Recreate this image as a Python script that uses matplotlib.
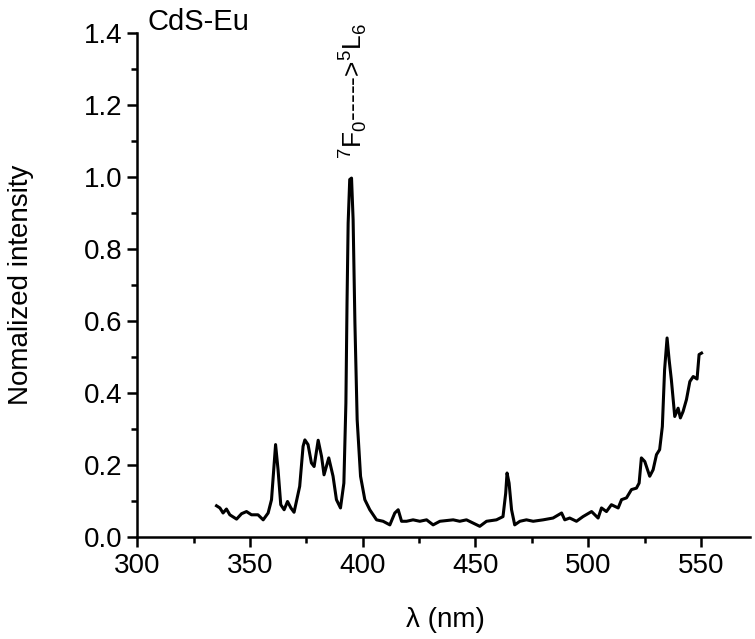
import numpy as np
import matplotlib.pyplot as plt
from matplotlib.ticker import MultipleLocator

plt.rcParams['font.family'] = ['Liberation Sans', 'DejaVu Sans']
plt.rcParams['mathtext.fontset'] = 'custom'
plt.rcParams['mathtext.rm'] = 'Liberation Sans'

# excitation spectrum
wavelength = [335.1, 336.6, 338.0, 339.5, 341.0, 344.0, 346.2, 348.4, 350.6, 353.5,
              355.8, 358.0, 359.5, 361.3, 362.4, 363.6, 365.1, 366.6, 368.1, 369.5,
              372.0, 373.5, 374.3, 375.7, 377.2, 378.4, 380.2, 381.7, 382.8, 384.9,
              386.8, 388.3, 390.1, 391.6, 392.5, 393.0, 393.5, 394.2, 395.0, 395.7,
              396.5, 397.5, 399.0, 400.9, 403.1, 406.1, 409.0, 412.0, 414.2, 415.7,
              417.2, 419.4, 422.3, 425.3, 428.3, 431.2, 434.2, 440.1, 443.0, 446.0,
              451.9, 454.9, 459.3, 462.2, 463.4, 464.0, 464.9, 466.0, 467.4, 469.7,
              472.6, 475.6, 480.0, 484.4, 488.2, 489.6, 491.8, 494.8, 497.7, 501.5,
              504.4, 505.9, 508.1, 510.3, 513.3, 514.8, 517.0, 519.2, 521.4, 522.6,
              523.6, 525.1, 527.3, 528.8, 530.3, 531.7, 532.9, 533.9, 535.0, 535.9,
              536.9, 538.4, 539.9, 540.9, 542.1, 543.6, 545.1, 546.6, 548.3, 549.2,
              550.3]
intensity = [0.086, 0.080, 0.066, 0.077, 0.061, 0.049, 0.064, 0.070, 0.061, 0.061,
             0.047, 0.066, 0.103, 0.256, 0.186, 0.089, 0.075, 0.098, 0.080, 0.068,
             0.140, 0.251, 0.269, 0.256, 0.205, 0.195, 0.268, 0.223, 0.172, 0.219,
             0.168, 0.103, 0.080, 0.149, 0.371, 0.649, 0.871, 0.992, 0.996, 0.881,
             0.594, 0.325, 0.168, 0.103, 0.075, 0.047, 0.043, 0.033, 0.066, 0.075,
             0.043, 0.043, 0.047, 0.043, 0.047, 0.033, 0.043, 0.047, 0.043, 0.047,
             0.029, 0.043, 0.047, 0.056, 0.121, 0.177, 0.149, 0.075, 0.033, 0.043,
             0.047, 0.043, 0.047, 0.052, 0.066, 0.047, 0.052, 0.043, 0.056, 0.070,
             0.052, 0.080, 0.070, 0.089, 0.080, 0.103, 0.108, 0.131, 0.135, 0.149,
             0.219, 0.209, 0.168, 0.186, 0.228, 0.242, 0.306, 0.464, 0.552, 0.492,
             0.436, 0.334, 0.357, 0.330, 0.348, 0.381, 0.431, 0.445, 0.438, 0.506,
             0.510]

fig = plt.figure(figsize=(7.55, 6.39), dpi=100)
ax = fig.add_axes([0.182, 0.16, 0.812, 0.789])

ax.plot(wavelength, intensity, color='black', lw=2.2)

ax.set_xlim(300, 572)
ax.set_ylim(0, 1.4)
ax.xaxis.set_major_locator(MultipleLocator(50))
ax.xaxis.set_minor_locator(MultipleLocator(25))
ax.yaxis.set_major_locator(MultipleLocator(0.2))
ax.yaxis.set_minor_locator(MultipleLocator(0.1))
ax.yaxis.set_major_formatter(plt.FormatStrFormatter('%.1f'))

for s in ['top', 'right']:
    ax.spines[s].set_visible(False)
for s in ['left', 'bottom']:
    ax.spines[s].set_linewidth(1.8)
ax.tick_params(which='major', direction='out', length=7, width=1.8, labelsize=20)
ax.tick_params(axis='x', which='major', pad=5)
ax.tick_params(axis='y', which='major', pad=4)
ax.tick_params(which='minor', direction='out', length=4, width=1.8)

ax.set_xlabel('λ (nm)', fontsize=20)
ax.set_ylabel('Nomalized intensity', fontsize=20)
ax.xaxis.set_label_coords(0.502, -0.139)
ax.yaxis.set_label_coords(-0.168, 0.5)

ax.text(0.017, 1.005, 'CdS-Eu', transform=ax.transAxes, fontsize=21, va='baseline')
ax.text(395.6, 1.05, r'$^{7}$F$_{0}$----->$^{5}$L$_{6}$', rotation=90,
        ha='center', va='bottom', fontsize=19)

plt.savefig('out.png', dpi=100)
